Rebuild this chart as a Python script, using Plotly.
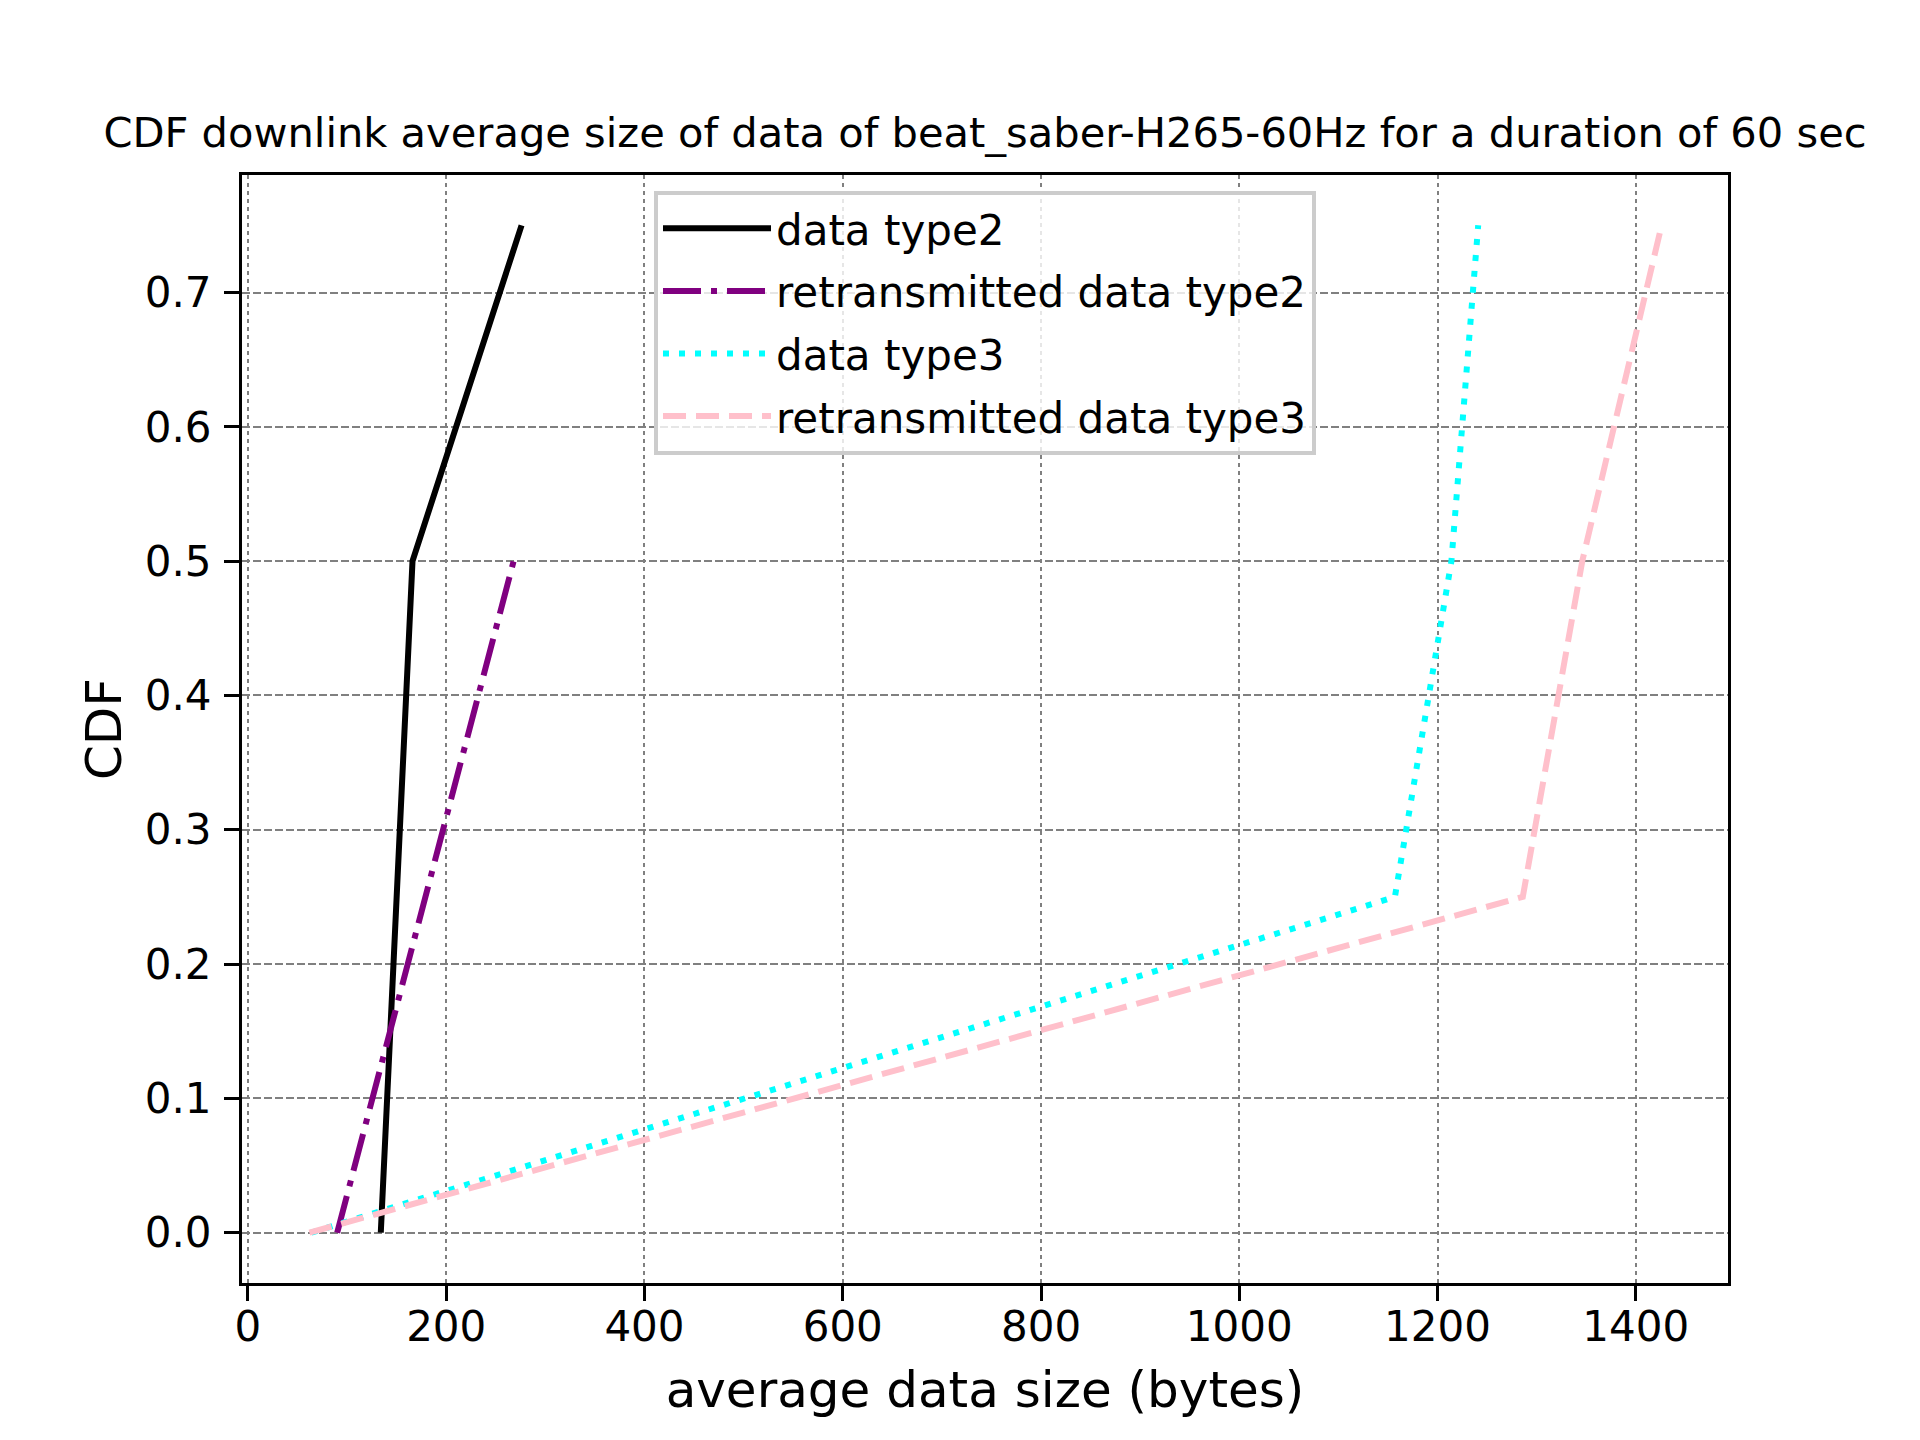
import plotly.graph_objects as go

# CDF levels and the average data sizes (bytes)
cdf_levels = [0.0, 0.25, 0.5, 0.75]
data_type2 = [134, 150, 166, 276]
retrans_cdf_type2 = [0.0, 0.25, 0.5]
retrans_type2 = [90, 179, 268]
data_type3 = [64, 1157, 1214, 1241]
retrans_type3 = [62, 1286, 1346, 1426]

x_ticks = [0, 200, 400, 600, 800, 1000, 1200, 1400]
y_ticks = [0.0, 0.1, 0.2, 0.3, 0.4, 0.5, 0.6, 0.7]

FONT = "DejaVu Sans"

fig = go.Figure()

# --- series ---
fig.add_trace(go.Scatter(x=data_type2, y=cdf_levels, mode="lines", name="data type2",
                         legendgroup="a", line=dict(color="black", width=6)))
fig.add_trace(go.Scatter(x=retrans_type2, y=retrans_cdf_type2, mode="lines",
                         name="retransmitted data type2", legendgroup="b",
                         line=dict(color="#800080", width=6, dash="38px,10px,6px,10px")))
fig.add_trace(go.Scatter(x=data_type3, y=cdf_levels, mode="lines", name="data type3",
                         legendgroup="c", line=dict(color="#00FFFF", width=6, dash="6px,10px")))
fig.add_trace(go.Scatter(x=retrans_type3, y=cdf_levels, mode="lines",
                         name="retransmitted data type3", legendgroup="d",
                         line=dict(color="#FFC0CB", width=6, dash="23px,10px")))

# --- axes ---
fig.update_xaxes(
    range=[-6, 1493], tickvals=x_ticks, showgrid=True, gridcolor="#808080",
    griddash="4px,4px", gridwidth=2, zeroline=False,
    showline=True, linecolor="black", linewidth=3, mirror=True,
    ticks="outside", ticklen=15, tickwidth=3, tickcolor="black", ticklabelstandoff=-10,
    tickfont=dict(family=FONT, size=42, color="black"),
    title=dict(text="average data size (bytes)", standoff=22,
               font=dict(family=FONT, size=50, color="black")),
)
fig.update_yaxes(
    range=[-0.0375, 0.7875], tickvals=y_ticks, tickformat=".1f", showgrid=True,
    gridcolor="#808080", griddash="8px,3px", gridwidth=2, zeroline=False,
    showline=True, linecolor="black", linewidth=3, mirror=True,
    ticks="outside", ticklen=15, tickwidth=3, tickcolor="black", ticklabelstandoff=4,
    tickfont=dict(family=FONT, size=42, color="black"),
    title=dict(text="CDF", standoff=8, font=dict(family=FONT, size=50, color="black")),
)

fig.update_layout(
    width=1920, height=1440,
    margin=dict(l=234, r=200, t=167, b=165),
    paper_bgcolor="white", plot_bgcolor="white",
    title=dict(
        text="CDF downlink average size of data of beat_saber-H265-60Hz for a duration of 60 sec",
        x=0.5, xref="paper", xanchor="center", y=1 - 124 / 1440, yanchor="middle",
        font=dict(family=FONT, size=41.6, color="black"),
    ),
    legend=dict(
        x=0.5, xanchor="center", y=0.986, yanchor="top",
        bgcolor="rgba(255,255,255,0.8)", bordercolor="#cccccc", borderwidth=4,
        font=dict(family=FONT, size=42, color="black"),
        tracegroupgap=5, itemwidth=108,
    ),
    showlegend=True,
)

fig.write_html("out.html")
